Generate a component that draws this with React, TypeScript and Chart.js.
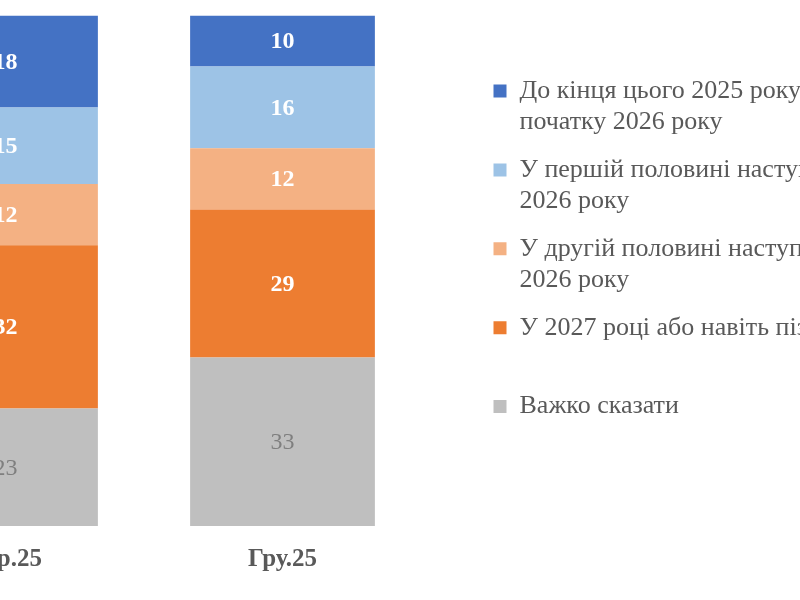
import React, { useEffect, useRef } from "react";
import { Chart, registerables } from "chart.js";

Chart.register(...registerables);

const categories = ["Вер.25", "Гру.25"];

const seriesNames = [
  "Важко сказати",
  "У 2027 році або навіть пізніше",
  "У другій половині наступного 2026 року",
  "У першій половині наступного 2026 року",
  "До кінця цього 2025 року або на початку 2026 року",
];

const legendLines = [
  ["Важко сказати", ""],
  ["У 2027 році або навіть пізніше", ""],
  ["У другій половині наступного", "2026 року"],
  ["У першій половині наступного", "2026 року"],
  ["До кінця цього 2025 року або на", "початку 2026 року"],
];

const hardToSay = [23, 33];
const in2027 = [32, 29];
const secondHalf2026 = [12, 12];
const firstHalf2026 = [15, 16];
const endOf2025 = [18, 10];

const seriesValues = [hardToSay, in2027, secondHalf2026, firstHalf2026, endOf2025];
const seriesColors = ["#BFBFBF", "#ED7D31", "#F4B183", "#9DC3E6", "#4472C4"];
const labelColors = ["#7F7F7F", "#FFFFFF", "#FFFFFF", "#FFFFFF", "#FFFFFF"];
const labelWeights = ["normal", "bold", "bold", "bold", "bold"];

const FONT = "'Liberation Serif', 'Times New Roman', serif";
const CANVAS_W = 1060;
const CANVAS_H = 600;
const LEGEND_WIDTH = 450;
const AXIS_GAP = 56;

const legendWidthPlugin = {
  id: "legendWidth",
  afterInit(chart: any) {
    const legend = chart.legend;
    if (!legend || legend._fixedWidth) return;
    const orig = legend.fit.bind(legend);
    legend.fit = function () {
      orig();
      this.width = LEGEND_WIDTH;
    };
    legend._fixedWidth = true;
  },
};

const valueLabelPlugin = {
  id: "valueLabels",
  afterDatasetsDraw(chart: any) {
    const ctx = chart.ctx;
    chart.data.datasets.forEach((ds: any, di: number) => {
      const meta = chart.getDatasetMeta(di);
      meta.data.forEach((el: any, i: number) => {
        const v = ds.data[i];
        const p = el.getCenterPoint();
        ctx.save();
        ctx.font = `${labelWeights[di]} 24px ${FONT}`;
        ctx.fillStyle = labelColors[di];
        ctx.textAlign = "center";
        ctx.textBaseline = "middle";
        ctx.fillText(String(v), p.x, p.y + 1);
        ctx.restore();
      });
    });
  },
};

export default function App() {
  const ref = useRef<HTMLCanvasElement>(null);

  useEffect(() => {
    document.body.style.overflow = "hidden";
    const canvas = ref.current;
    if (!canvas) return;
    const chart = new Chart(canvas, {
      type: "bar",
      data: {
        labels: categories,
        datasets: seriesValues.map((vals, i) => ({
          label: seriesNames[i],
          data: vals,
          backgroundColor: seriesColors[i],
          borderWidth: 0,
          categoryPercentage: 1,
          barPercentage: 0.667,
        })),
      },
      options: {
        responsive: false,
        animation: false,
        layout: { padding: { top: 15.5, bottom: 6, left: 0, right: 0 } },
        scales: {
          x: {
            stacked: true,
            grid: { display: false, drawTicks: false },
            border: { display: false },
            ticks: {
              color: "#595959",
              padding: 19,
              font: { family: FONT, size: 25, weight: "bold", lineHeight: 1.2 },
            },
          },
          y: {
            stacked: true,
            min: 0,
            max: 100,
            position: "right",
            grid: { display: false, drawTicks: false },
            border: { display: false },
            ticks: { display: false },
            afterFit(scale: any) {
              scale.width = AXIS_GAP;
            },
          },
        },
        plugins: {
          tooltip: { enabled: false },
          legend: {
            position: "right",
            align: "start",
            reverse: true,
            title: {
              display: true,
              text: " ",
              font: { size: 10, lineHeight: 1 },
              padding: { top: 36, bottom: 0 },
            },
            labels: {
              color: "#595959",
              boxWidth: 13,
              boxHeight: 13,
              padding: 16.5,
              font: { family: FONT, size: 26, lineHeight: 1.2 },
              generateLabels(ch: any) {
                const items = Chart.defaults.plugins.legend.labels.generateLabels(ch);
                return items.map((it: any) => ({
                  ...it,
                  text: legendLines[it.datasetIndex],
                  lineWidth: 0,
                }));
              },
            },
          },
        },
      } as any,
      plugins: [legendWidthPlugin, valueLabelPlugin],
    });
    return () => chart.destroy();
  }, []);

  return (
    <div
      style={{
        position: "fixed",
        left: -133,
        top: 0,
        width: CANVAS_W,
        height: CANVAS_H,
        background: "#ffffff",
      }}
    >
      <canvas ref={ref} width={CANVAS_W} height={CANVAS_H} style={{ display: "block" }} />
    </div>
  );
}
